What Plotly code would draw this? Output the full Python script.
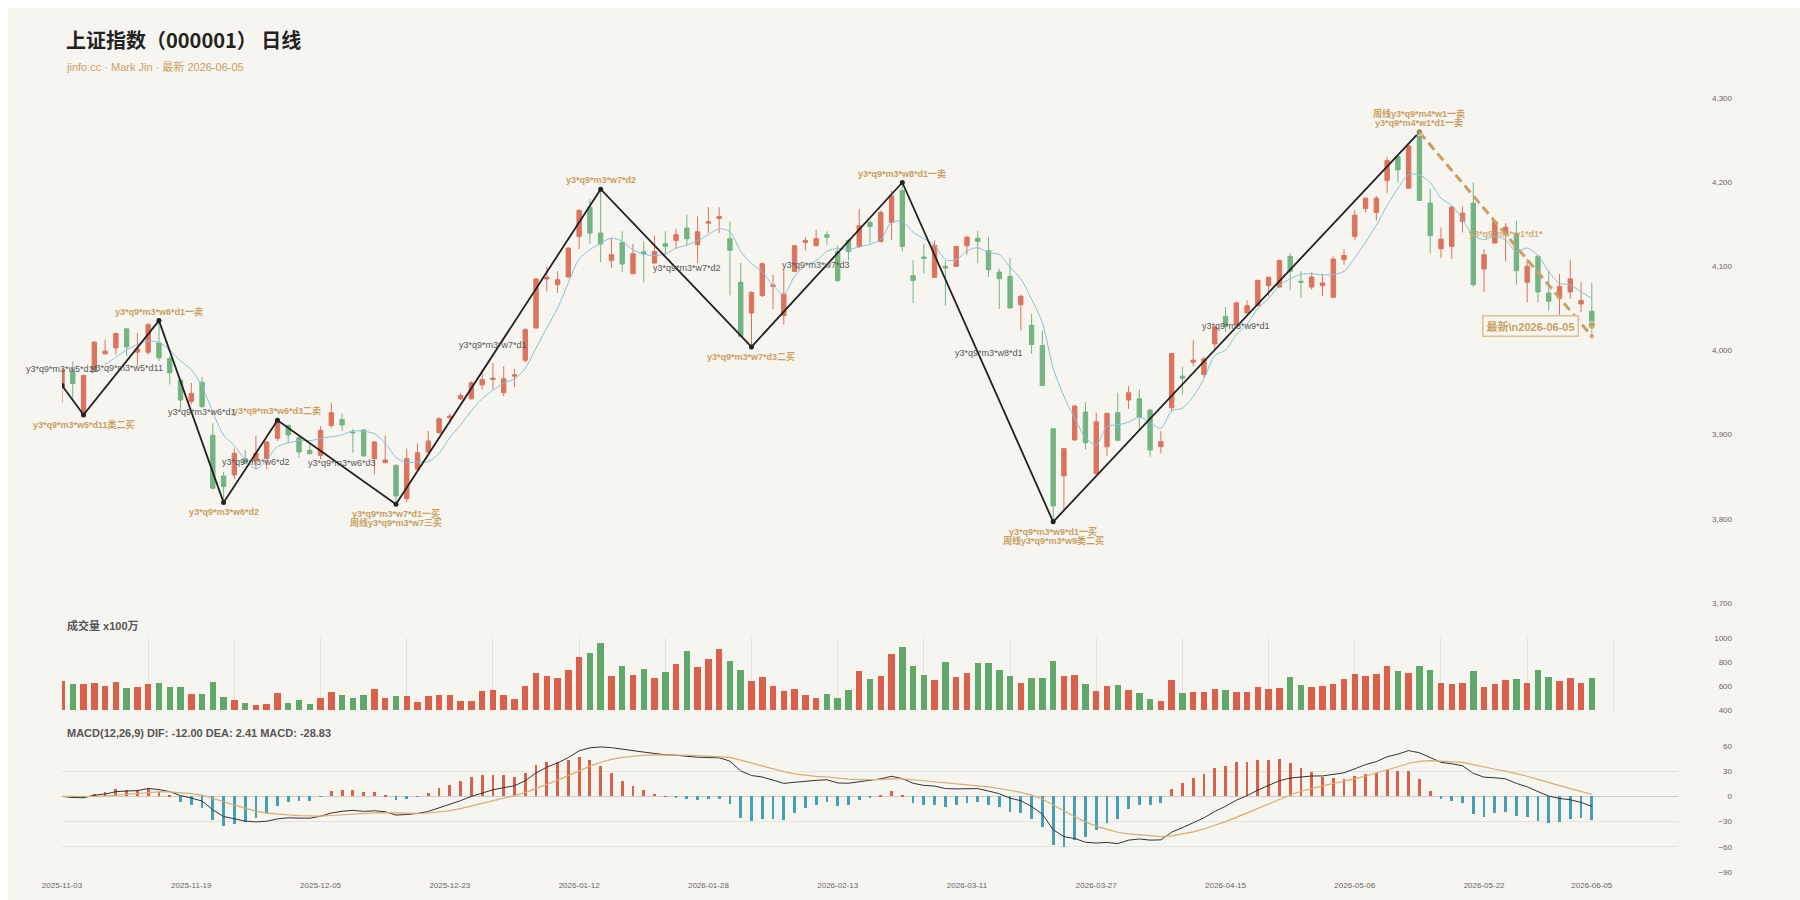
import pandas as pd
import plotly.graph_objects as go

# ---------------- data ----------------
HOLIDAYS = ["2026-01-01", "2026-01-02", "2026-02-16", "2026-02-17", "2026-02-18",
            "2026-02-19", "2026-02-20", "2026-02-23", "2026-04-06", "2026-05-01",
            "2026-05-04", "2026-05-05"]
dates = [d.strftime("%Y-%m-%d") for d in pd.bdate_range("2025-11-03", "2026-06-05")
         if d.strftime("%Y-%m-%d") not in HOLIDAYS]

opens = [3955.7, 3975.5, 3924.1, 3977.4, 3996.0, 4003.1, 4025.7, 3998.0, 3998.0, 4009.0,
         3990.5, 3964.8, 3939.5, 3962.4, 3899.2, 3850.9, 3852.1, 3871.5, 3868.7, 3871.5,
         3895.6, 3911.0, 3896.4, 3881.4, 3875.4, 3911.0, 3918.1, 3903.1, 3905.5, 3871.5,
         3866.7, 3863.6, 3824.0, 3858.8, 3879.4, 3902.3, 3920.0, 3942.6, 3942.6, 3959.2,
         3965.5, 3949.7, 3969.5, 3988.5, 4026.8, 4084.9, 4078.2, 4087.3, 4135.5, 4170.3,
         4139.5, 4107.1, 4128.4, 4091.2, 4117.3, 4103.9, 4126.8, 4130.8, 4145.4, 4125.6,
         4151.3, 4156.9, 4132.8, 4081.0, 4044.6, 4065.2, 4076.2, 4041.4, 4094.0, 4128.4,
         4124.5, 4137.5, 4117.7, 4130.8, 4123.7, 4152.1, 4129.6, 4152.1, 4190.1, 4088.9,
         4111.0, 4086.9, 4100.0, 4100.0, 4124.5, 4133.5, 4118.5, 4093.2, 4088.1, 4054.5,
         4030.0, 4005.9, 3907.1, 3851.0, 3893.7, 3926.9, 3853.7, 3885.7, 3926.1, 3941.1,
         3942.7, 3929.2, 3885.7, 3932.0, 3969.5, 3986.1, 3971.5, 4007.8, 4040.7, 4030.8,
         4044.6, 4053.3, 4077.0, 4075.4, 4111.8, 4082.2, 4075.4, 4077.0, 4063.2, 4107.9,
         4135.5, 4168.7, 4164.0, 4201.9, 4230.4, 4192.9, 4259.3, 4175.1, 4120.9, 4123.7,
         4153.4, 4175.1, 4096.8, 4127.7, 4138.7, 4138.7, 4081.0, 4111.9, 4068.4, 4062.4,
         4069.6, 4055.3, 4046.6]
highs = [3979.0, 3987.3, 3971.5, 4011.0, 4013.0, 4021.7, 4026.4, 4020.9, 4032.8, 4035.5,
         3993.2, 3965.6, 3961.6, 3968.7, 3913.4, 3855.7, 3883.4, 3881.4, 3898.4, 3892.4,
         3917.4, 3911.8, 3898.4, 3890.5, 3910.2, 3937.9, 3925.2, 3907.1, 3907.1, 3892.4,
         3899.2, 3864.4, 3883.4, 3889.7, 3904.3, 3920.9, 3925.0, 3949.7, 3963.6, 3977.4,
         3985.3, 3981.4, 3978.2, 4026.8, 4086.1, 4099.2, 4094.0, 4122.5, 4167.9, 4179.8,
         4191.7, 4133.5, 4141.5, 4126.8, 4129.6, 4136.3, 4141.5, 4144.6, 4161.2, 4159.2,
         4170.3, 4170.3, 4153.3, 4103.9, 4070.3, 4104.7, 4090.1, 4096.0, 4125.6, 4134.7,
         4143.4, 4141.5, 4124.9, 4132.4, 4167.9, 4155.3, 4166.4, 4190.1, 4199.6, 4107.1,
         4126.4, 4130.8, 4105.9, 4124.5, 4136.3, 4142.2, 4134.7, 4097.2, 4109.8, 4066.4,
         4043.8, 4023.7, 3907.9, 3884.2, 3934.8, 3938.7, 3926.1, 3926.1, 3949.8, 3957.7,
         3953.7, 3930.8, 3904.3, 3997.2, 3980.6, 4012.2, 3992.4, 4028.8, 4051.7, 4058.5,
         4059.6, 4084.1, 4088.1, 4107.9, 4115.8, 4094.0, 4093.2, 4091.2, 4111.8, 4120.5,
         4166.4, 4181.8, 4183.7, 4230.4, 4231.2, 4243.9, 4260.1, 4191.7, 4146.2, 4171.2,
         4171.2, 4199.6, 4120.5, 4154.2, 4151.4, 4154.2, 4108.7, 4113.8, 4094.1, 4090.9,
         4107.9, 4081.4, 4080.2]
lows = [3937.9, 3941.8, 3922.9, 3975.5, 3995.2, 3995.0, 3993.2, 3981.4, 3995.2, 3987.3,
        3959.6, 3930.0, 3935.9, 3932.0, 3835.1, 3819.3, 3847.0, 3864.8, 3858.8, 3858.8,
        3892.4, 3890.5, 3872.7, 3876.6, 3870.7, 3908.3, 3904.3, 3878.6, 3873.9, 3852.9,
        3866.0, 3817.3, 3820.1, 3856.9, 3878.6, 3901.5, 3915.0, 3941.0, 3941.8, 3953.7,
        3953.7, 3945.8, 3956.8, 3985.3, 4025.6, 4070.3, 4068.3, 4086.1, 4120.5, 4126.8,
        4104.7, 4098.0, 4092.8, 4090.5, 4081.0, 4103.1, 4113.8, 4120.5, 4124.9, 4103.9,
        4139.5, 4139.5, 4065.6, 4016.2, 4004.3, 4063.6, 4049.4, 4030.8, 4092.8, 4119.0,
        4123.7, 4125.6, 4081.0, 4107.1, 4121.7, 4127.6, 4128.4, 4131.6, 4117.7, 4056.5,
        4091.2, 4086.1, 4053.3, 4099.2, 4113.8, 4103.9, 4087.3, 4049.4, 4049.7, 4024.0,
        3996.0, 3957.6, 3796.4, 3810.6, 3892.9, 3882.6, 3853.0, 3874.7, 3892.5, 3930.8,
        3904.3, 3873.9, 3877.8, 3928.0, 3947.8, 3981.4, 3967.5, 4001.1, 4021.7, 4029.6,
        4043.8, 4052.5, 4064.4, 4074.6, 4071.5, 4062.4, 4072.3, 4064.4, 4062.4, 4101.9,
        4130.8, 4164.0, 4154.5, 4186.9, 4199.6, 4192.1, 4178.3, 4115.0, 4109.9, 4108.7,
        4140.3, 4075.5, 4069.6, 4126.9, 4105.9, 4078.3, 4057.3, 4057.3, 4047.4, 4036.7,
        4061.3, 4045.4, 4017.0]
closes = [3977.4, 3960.8, 3970.3, 4009.9, 3999.2, 4020.1, 4004.3, 4002.0, 4030.8, 3991.3,
          3973.5, 3941.1, 3949.0, 3933.2, 3836.3, 3838.3, 3877.8, 3866.0, 3877.8, 3891.3,
          3916.2, 3899.6, 3879.4, 3877.4, 3905.1, 3926.0, 3911.4, 3902.3, 3874.7, 3891.3,
          3869.9, 3827.2, 3871.5, 3878.6, 3892.4, 3918.9, 3922.1, 3946.6, 3961.6, 3965.5,
          3967.1, 3966.3, 3971.1, 4024.8, 4084.9, 4086.9, 4084.1, 4121.7, 4166.4, 4139.5,
          4126.4, 4113.8, 4102.7, 4115.0, 4114.6, 4117.7, 4123.7, 4137.5, 4132.8, 4141.1,
          4152.9, 4159.2, 4119.0, 4017.0, 4069.1, 4103.1, 4077.8, 4067.1, 4124.5, 4130.8,
          4132.8, 4134.7, 4083.0, 4117.7, 4148.2, 4147.4, 4164.0, 4183.7, 4123.7, 4083.3,
          4109.4, 4124.9, 4098.0, 4123.7, 4134.7, 4129.6, 4096.0, 4085.3, 4050.5, 4064.4,
          4007.1, 3958.4, 3815.4, 3883.4, 3934.0, 3890.5, 3915.4, 3925.3, 3893.3, 3949.8,
          3920.9, 3881.8, 3891.7, 3996.4, 3967.1, 3988.5, 3990.0, 4028.0, 4028.8, 4056.5,
          4053.3, 4083.3, 4086.9, 4107.1, 4094.0, 4081.0, 4087.3, 4080.2, 4108.6, 4113.0,
          4160.8, 4181.0, 4181.0, 4225.7, 4214.6, 4243.1, 4178.3, 4136.4, 4132.4, 4170.4,
          4163.2, 4078.3, 4113.8, 4153.4, 4146.6, 4094.9, 4100.0, 4069.6, 4058.5, 4076.3,
          4085.0, 4059.3, 4029.6]
volumes = [643, 618, 615, 629, 598, 634, 584, 590, 615, 623,
           593, 595, 531, 534, 634, 506, 481, 459, 445, 450,
           540, 459, 487, 447, 501, 548, 526, 501, 526, 573,
           503, 514, 514, 464, 514, 523, 523, 478, 473, 559,
           565, 526, 492, 598, 707, 685, 668, 732, 841, 872,
           958, 682, 766, 690, 738, 668, 713, 785, 888, 757,
           824, 908, 808, 732, 640, 676, 598, 559, 573, 526,
           501, 531, 503, 568, 727, 657, 682, 866, 925, 768,
           690, 648, 799, 676, 710, 791, 794, 735, 682, 626,
           668, 668, 808, 682, 690, 618, 562, 598, 607, 568,
           545, 492, 475, 646, 542, 548, 548, 573, 570, 548,
           551, 590, 579, 584, 674, 607, 590, 601, 615, 657,
           701, 685, 699, 763, 721, 707, 763, 732, 629, 618,
           626, 727, 590, 615, 654, 660, 623, 732, 676, 643,
           668, 623, 665]

# zigzag (笔) pivots: bar index and price
pivot_idx = [0, 2, 9, 15, 20, 31, 50, 64, 78, 92, 126]
pivot_val = [3958.5, 3923.5, 4035.5, 3819.3, 3917.2, 3817.3, 4191.7, 4004.3, 4199.6, 3796.4, 4259.5]

# signal labels on pivots: (pivot bar index, text, side: +1 above / -1 below, line no.)
pivot_labels = [
    (2, "y3*q9*m3*w5*d11类二买", -1, 1),
    (9, "y3*q9*m3*w6*d1一卖", 1, 1),
    (15, "y3*q9*m3*w6*d2", -1, 1),
    (20, "y3*q9*m3*w6*d3二卖", 1, 1),
    (31, "y3*q9*m3*w7*d1一买", -1, 1),
    (31, "周线y3*q9*m3*w7三买", -1, 2),
    (50, "y3*q9*m3*w7*d2", 1, 1),
    (64, "y3*q9*m3*w7*d3二买", -1, 1),
    (78, "y3*q9*m3*w8*d1一卖", 1, 1),
    (92, "y3*q9*m3*w9*d1一买", -1, 1),
    (92, "周线y3*q9*m3*w9类二买", -1, 2),
    (126, "y3*q9*m4*w1*d1一卖", 1, 1),
    (126, "周线y3*q9*m4*w1一卖", 1, 2),
]

# secondary (grey) labels: bar index, price, text
sub_idx = [0, 6, 13, 18, 26, 40, 58, 70, 86, 109]
sub_price = [3977.5, 3979.5, 3927.0, 3868.0, 3866.8, 4006.0, 4098.0, 4102.0, 3997.3, 4028.8]
sub_text = ["y3*q9*m3*w5*d11", "y3*q9*m3*w5*d11", "y3*q9*m3*w6*d1", "y3*q9*m3*w6*d2",
            "y3*q9*m3*w6*d3", "y3*q9*m3*w7*d1", "y3*q9*m3*w7*d2", "y3*q9*m3*w7*d3",
            "y3*q9*m3*w8*d1", "y3*q9*m3*w9*d1"]
pending_idx, pending_price, pending_text = 134, 4138.7, "y3*q9*m4*w1*d1*"

TITLE = "上证指数（000001） 日线"
SUBTITLE = "jinfo.cc · Mark Jin · 最新 2026-06-05"
VOL_TITLE = "成交量 x100万"
MACD_TITLE = "MACD(12,26,9) DIF: -12.00 DEA: 2.41 MACD: -28.83"
LATEST_TEXT = "最新\\n2026-06-05"

# ---------------- derived indicators ----------------
n = len(dates)
idx = list(range(n))
cs = pd.Series(closes)
ma5 = cs.rolling(5).mean()
ema12 = cs.ewm(span=12, adjust=False).mean()
ema26 = cs.ewm(span=26, adjust=False).mean()
dif = ema12 - ema26
dea = dif.ewm(span=9, adjust=False).mean()
hist = 2 * (dif - dea)

# ---------------- style ----------------
RED = "#dc735f"
GREEN = "#74b483"
VRED = "#d9604a"
VGREEN = "#5fa86a"
HRED = "#d9604a"
HBLUE = "#46a0b5"
GOLD = "#c9a063"
BG = "#f7f5f0"
FONT = "Liberation Sans, Noto Sans CJK SC, sans-serif"
CJK = "Noto Sans CJK SC, Liberation Sans, sans-serif"

W, H = 1800, 900
XDOM = [62 / W, 1678 / W]
YPOS = 1732 / W

fig = go.Figure()

fig.add_trace(go.Candlestick(
    x=idx, open=opens, high=highs, low=lows, close=closes,
    increasing=dict(line=dict(color=RED, width=1), fillcolor=RED),
    decreasing=dict(line=dict(color=GREEN, width=1), fillcolor=GREEN),
    whiskerwidth=0, xaxis="x", yaxis="y", showlegend=False, hoverinfo="skip"))

fig.add_trace(go.Scatter(
    x=idx, y=ma5, mode="lines", xaxis="x", yaxis="y",
    line=dict(color="#86c3d3", width=1, shape="spline", smoothing=0.8),
    showlegend=False, hoverinfo="skip"))

fig.add_trace(go.Scatter(
    x=pivot_idx, y=pivot_val, mode="lines+markers", xaxis="x", yaxis="y",
    line=dict(color="#222222", width=1.8),
    marker=dict(size=5, color="#222222"),
    showlegend=False, hoverinfo="skip"))

fig.add_trace(go.Scatter(
    x=[pivot_idx[-1], n - 1], y=[pivot_val[-1], lows[-1]], mode="lines",
    xaxis="x", yaxis="y",
    line=dict(color=GOLD, width=3, dash="9px,5px"),
    showlegend=False, hoverinfo="skip"))

fig.add_trace(go.Scatter(
    x=[pivot_idx[-1], n - 1, n - 1], y=[pivot_val[-1], closes[-1], lows[-1]],
    mode="markers", xaxis="x", yaxis="y",
    marker=dict(size=[7, 8, 6], color=GOLD),
    showlegend=False, hoverinfo="skip"))

vcolors = [VRED if c >= o else VGREEN for o, c in zip(opens, closes)]
fig.add_trace(go.Bar(
    x=idx, y=volumes, marker=dict(color=vcolors, line=dict(width=0)), width=0.6,
    xaxis="x2", yaxis="y2", showlegend=False, hoverinfo="skip"))

hcolors = [HRED if v >= 0 else HBLUE for v in hist]
fig.add_trace(go.Bar(
    x=idx, y=hist, marker=dict(color=hcolors, line=dict(width=0)), width=0.26,
    xaxis="x3", yaxis="y3", showlegend=False, hoverinfo="skip"))
fig.add_trace(go.Scatter(
    x=idx, y=dif, mode="lines", line=dict(color="#333333", width=1),
    xaxis="x3", yaxis="y3", showlegend=False, hoverinfo="skip"))
fig.add_trace(go.Scatter(
    x=idx, y=dea, mode="lines", line=dict(color="#d8ad70", width=1.2),
    xaxis="x3", yaxis="y3", showlegend=False, hoverinfo="skip"))

annotations = []
annotations.append(dict(text="<b>" + TITLE + "</b>", xref="paper", yref="paper",
                        x=64 / W, y=1 - 40 / H, xanchor="left", yanchor="middle",
                        showarrow=False, font=dict(size=20, color="#222222", family=CJK)))
annotations.append(dict(text=SUBTITLE, xref="paper", yref="paper",
                        x=64 / W, y=1 - 66 / H, xanchor="left", yanchor="middle",
                        showarrow=False, font=dict(size=11, color=GOLD, family=FONT)))
annotations.append(dict(text="<b>" + VOL_TITLE + "</b>", xref="paper", yref="paper",
                        x=65 / W, y=1 - 625 / H, xanchor="left", yanchor="middle",
                        showarrow=False, font=dict(size=11, color="#555555", family=FONT)))
annotations.append(dict(text="<b>" + MACD_TITLE + "</b>", xref="paper", yref="paper",
                        x=65 / W, y=1 - 733 / H, xanchor="left", yanchor="middle",
                        showarrow=False, font=dict(size=11, color="#555555", family=FONT)))

pv = dict(zip(pivot_idx, pivot_val))
for pi, txt, side, line in pivot_labels:
    annotations.append(dict(text="<b>" + txt + "</b>", xref="x", yref="y",
                            x=pi, y=pv[pi], showarrow=False,
                            yshift=side * (9.5 + 9 * (line - 1)),
                            xanchor="center", yanchor="middle",
                            font=dict(size=9, color=GOLD, family=FONT)))
for si, sp, st in zip(sub_idx, sub_price, sub_text):
    annotations.append(dict(text=st, xref="x", yref="y", x=si, y=sp, showarrow=False,
                            xanchor="center", yanchor="middle",
                            font=dict(size=9, color="#555555", family=FONT)))
annotations.append(dict(text="<b>" + pending_text + "</b>", xref="x", yref="y",
                        x=pending_idx, y=pending_price, showarrow=False,
                        xanchor="center", yanchor="middle", opacity=0.8,
                        font=dict(size=9, color=GOLD, family=FONT)))
annotations.append(dict(text="<b>" + LATEST_TEXT + "</b>", xref="x", yref="y",
                        x=n - 1, y=closes[-1], showarrow=False,
                        xanchor="right", yanchor="middle", xshift=-13,
                        bgcolor=BG, bordercolor="#dcc395", borderwidth=1.5, borderpad=3,
                        font=dict(size=11, color=GOLD, family=FONT)))

tick_idx = list(range(0, n, 12)) + [n - 1]
tick_txt = [dates[i] for i in tick_idx]

common_x = dict(domain=XDOM, range=[0, 150], zeroline=False, showline=False,
                ticks="", fixedrange=True, automargin=False)
common_y = dict(anchor="free", position=YPOS, side="left", showline=False, ticks="",
                automargin=False, fixedrange=True,
                tickfont=dict(size=8, color="#666666", family=FONT))

fig.update_layout(
    width=W, height=H,
    margin=dict(l=0, r=0, t=0, b=0, autoexpand=False),
    paper_bgcolor="#ffffff", plot_bgcolor=BG,
    font=dict(family=FONT),
    showlegend=False,
    boxgap=0.42,
    bargap=0,
    shapes=[dict(type="rect", xref="paper", yref="paper", x0=8 / W, x1=1, y0=0, y1=1 - 8 / H,
                 fillcolor=BG, line=dict(width=0), layer="below")],
    xaxis=dict(**common_x, anchor="y", showgrid=False, showticklabels=False,
               rangeslider=dict(visible=False)),
    xaxis2=dict(**common_x, anchor="y2", showgrid=True, gridcolor="#e4e2db", gridwidth=1,
                tickmode="linear", tick0=0, dtick=8, showticklabels=False),
    xaxis3=dict(**common_x, anchor="y3", showgrid=False, tickmode="array",
                tickvals=tick_idx, ticktext=tick_txt, ticklabelstandoff=7,
                tickfont=dict(size=8, color="#666666", family=FONT)),
    yaxis=dict(**common_y, domain=[1 - 603 / H, 1 - 98 / H], range=[3700, 4300],
               zeroline=False, tickmode="linear", tick0=3700, dtick=100, tickformat=",",
               showgrid=False),
    yaxis2=dict(**common_y, domain=[1 - 710 / H, 1 - 638 / H], range=[400, 1000],
                zeroline=False, tickmode="array", tickvals=[400, 600, 800, 1000],
                showgrid=False),
    yaxis3=dict(**common_y, domain=[1 - 872 / H, 1 - 746 / H], range=[-90, 60],
                tickmode="linear", tick0=-90, dtick=30, showgrid=True,
                gridcolor="#e6e3dc", gridwidth=1,
                zeroline=True, zerolinecolor="#cccccc", zerolinewidth=1),
    annotations=annotations,
)

fig.write_html("out.html")
